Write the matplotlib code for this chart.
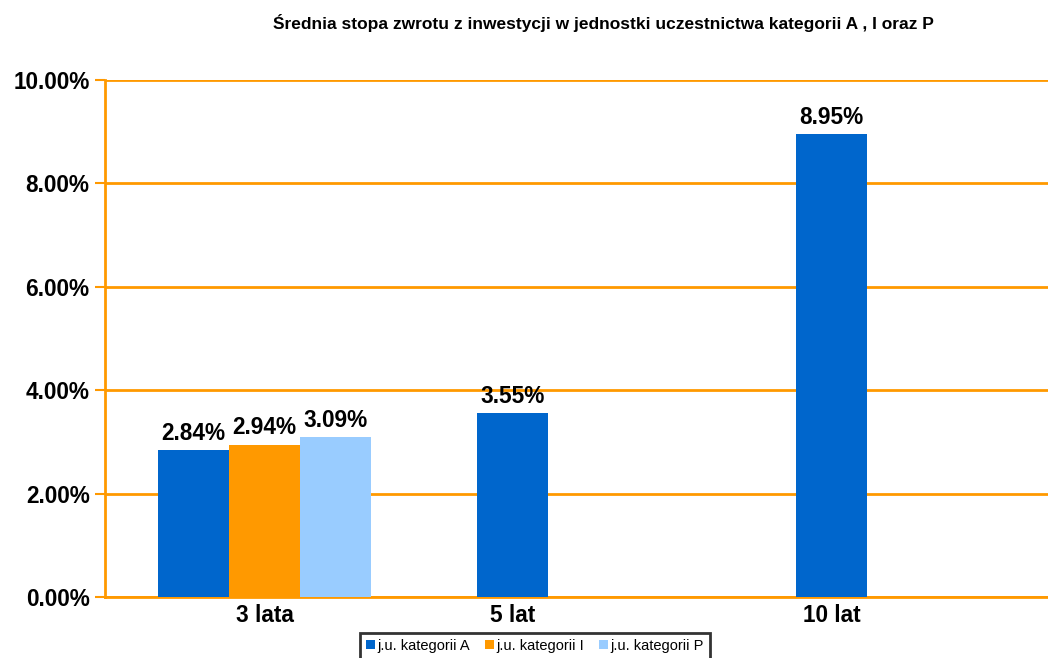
import matplotlib.pyplot as plt
import numpy as np

plt.rcParams['font.family'] = ['Liberation Sans', 'DejaVu Sans']

# Data
categories = ['3 lata', '5 lat', '10 lat']
series_names = ['j.u. kategorii A', 'j.u. kategorii I', 'j.u. kategorii P']
values = [
    [2.84, 3.55, 8.95],      # A
    [2.94, None, None],      # I
    [3.09, None, None],      # P
]
colors = ['#0066CC', '#FF9900', '#99CCFF']
yticks = [0, 2, 4, 6, 8, 10]

grid_color = '#FF9900'
lbl_size = 16.3

fig = plt.figure(figsize=(10.48, 6.58), dpi=100)
ax = fig.add_axes([105 / 1048, 61 / 658, 957 / 1048, 517 / 658])

n = len(series_names)
w = 0.2226
x = np.arange(len(categories))
present = [[] for _ in categories]
for i, (name, vals, c) in enumerate(zip(series_names, values, colors)):
    xs = [x[j] + (i - (n - 1) / 2) * w for j in range(len(categories)) if vals[j] is not None]
    ys = [v for v in vals if v is not None]
    for j, v in enumerate(vals):
        if v is not None:
            present[j].append(x[j] + (i - (n - 1) / 2) * w)
    bars = ax.bar(xs, ys, width=w, color=c, label=name, zorder=3)
    for b, v in zip(bars, ys):
        ax.annotate(f'{v:.2f}%', (b.get_x() + b.get_width() / 2, v),
                    xytext=(0, 4), textcoords='offset points',
                    ha='center', va='bottom', fontsize=lbl_size, fontweight='bold')

# category label sits under the bars actually drawn in that group
tick_pos = [np.mean(p) for p in present]
ax.set_xticks(tick_pos)
ax.set_xticklabels(categories, fontsize=lbl_size, fontweight='bold')
ax.tick_params(axis='x', length=0, pad=5)

ax.set_xlim(-0.5, 2.5)
ax.set_ylim(0, 10)
ax.set_yticks(yticks)
ax.set_yticklabels([f'{t:.2f}%' for t in yticks], fontsize=lbl_size, fontweight='bold')
ax.tick_params(axis='y', length=7, width=1.5, color=grid_color, pad=4)

ax.yaxis.grid(True, color=grid_color, linewidth=2, zorder=0)
ax.set_axisbelow(True)
for s in ['top', 'right']:
    ax.spines[s].set_visible(False)
ax.spines['left'].set_color(grid_color)
ax.spines['left'].set_linewidth(2)
ax.spines['bottom'].set_color(grid_color)
ax.spines['bottom'].set_linewidth(2)

fig.text(603 / 1048, 1 - 23 / 658,
         'Średnia stopa zwrotu z inwestycji w jednostki uczestnictwa kategorii A , I oraz P',
         ha='center', va='center', fontsize=12.5, fontweight='bold')

leg = fig.legend(loc='upper center', bbox_to_anchor=(535 / 1048, 1 - 633 / 658),
                 ncol=3, fontsize=10.5, frameon=True, fancybox=False,
                 handlelength=0.6, handleheight=0.6, handletextpad=0.2,
                 columnspacing=1.0, borderpad=0.4, borderaxespad=0)
leg.get_frame().set_edgecolor('black')
leg.get_frame().set_linewidth(2)

fig.savefig('out.png', dpi=100)
